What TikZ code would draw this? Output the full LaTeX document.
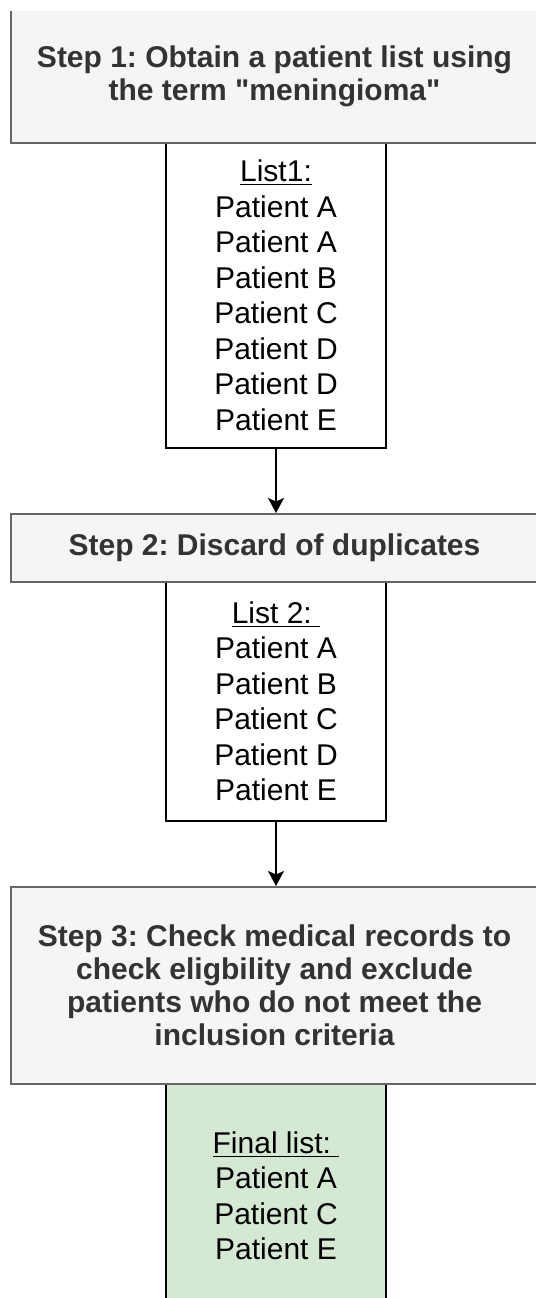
\documentclass[tikz,border=0pt]{standalone}
\usepackage{fontspec}
\setmainfont{Liberation Sans}[Ligatures=TeXOff]
\usepackage{tikz}
\usetikzlibrary{arrows.meta}
\definecolor{stepfill}{HTML}{F5F5F5}
\definecolor{stepline}{HTML}{666666}
\definecolor{steptext}{HTML}{333333}
\definecolor{finalfill}{HTML}{D5E8D4}
\frenchspacing

\begin{document}
\begin{tikzpicture}[
  stepbox/.style={draw=stepline, fill=stepfill, line width=1.14pt, text=steptext,
    minimum width=10.54cm, align=center, font=\bfseries\fontsize{17.07}{18.8}\selectfont},
  listbox/.style={draw=black, fill=white, line width=1.14pt, minimum width=4.4cm,
    align=center, font=\fontsize{17.07}{20.2}\selectfont},
  flow/.style={-{Stealth[length=0.3cm,width=0.32cm,inset=0.07cm]}, line width=1.14pt}]
\useasboundingbox (0,0) rectangle (10.72,-25.96);
\clip (0,-0.23) rectangle (10.72,-25.96);
% The lists go first so that the grey step borders lie over them
\node[listbox, minimum height=6.1cm] (list1) at (5.52,-5.91)
  {\underline{List1:}\\Patient A\\Patient A\\Patient B\\Patient C\\Patient D\\Patient D\\Patient E};
\node[listbox, minimum height=4.78cm] (list2) at (5.52,-14.03)
  {\underline{List 2:\ }\\Patient A\\Patient B\\Patient C\\Patient D\\Patient E};
\node[listbox, fill=finalfill, minimum height=4.48cm] (final) at (5.52,-23.92)
  {\underline{Final list:\ }\\Patient A\\Patient C\\Patient E};
\node[stepbox, minimum height=2.66cm] (step1) at (5.49,-1.53)
  {Step 1: Obtain a patient list using\\the term "meningioma"};
\node[stepbox, minimum height=1.36cm] (step2) at (5.49,-10.96)
  {Step 2: Discard of duplicates};
\node[stepbox, minimum height=3.94cm] (step3) at (5.49,-19.71)
  {Step 3: Check medical records to\\check eligbility and exclude\\patients who do not meet the\\inclusion criteria};
\draw[flow] (list1.south) -- (list1.south |- step2.north);
\draw[flow] (list2.south) -- (list2.south |- step3.north);
\end{tikzpicture}
\end{document}
